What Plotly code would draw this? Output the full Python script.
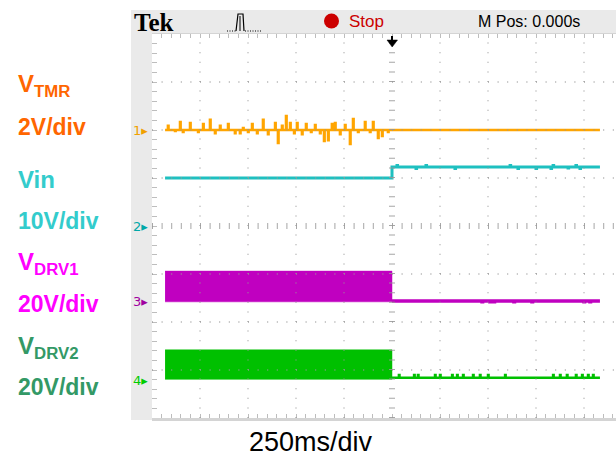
import plotly.graph_objects as go

# ---------------- data ----------------
sec_per_div = 0.25            # 250 ms/div
n_hdiv, n_vdiv = 10, 8

ch_names = ["V<sub>TMR</sub>", "Vin", "V<sub>DRV1</sub>", "V<sub>DRV2</sub>"]
ch_scale_labels = ["2V/div", "10V/div", "20V/div", "20V/div"]
volts_per_div = [2, 10, 20, 20]
ch_offset_div = [2.0, -0.01, -1.58, -3.22]   # ground marker positions (div)

t_start = -1.182      # s, first sample
t_step = 0.0          # s, input step (trigger)
t_end = 1.083         # s, last sample

# CH1 (VTMR) noise before the step, volts
ch1_noise_t = [-1.182, -1.167, -1.130, -1.104, -1.089, -1.052, -1.010, -0.984, -0.948, -0.922,
               -0.896, -0.854, -0.818, -0.792, -0.776, -0.750, -0.729, -0.703, -0.672, -0.646,
               -0.609, -0.594, -0.573, -0.552, -0.531, -0.510, -0.495, -0.469, -0.448, -0.422,
               -0.401, -0.375, -0.354, -0.333, -0.313, -0.297, -0.271, -0.245, -0.219, -0.203,
               -0.177, -0.141, -0.115, -0.099, -0.073, -0.052, -0.021]
ch1_noise_v = [0.00, 0.17, -0.04, 0.33, -0.08, 0.29, -0.08, 0.25, 0.42, -0.13,
               0.17, 0.25, -0.13, -0.13, 0.08, -0.08, 0.25, -0.13, 0.42, -0.17,
               0.29, -0.54, 0.17, 0.58, 0.29, -0.13, 0.29, -0.17, 0.25, -0.08,
               0.21, -0.13, -0.46, -0.42, 0.25, 0.29, -0.17, 0.21, -0.58, 0.46,
               -0.08, 0.33, -0.08, 0.33, -0.33, -0.25, -0.08]
ch1_level_v = 0.0

# CH2 (Vin)
ch2_before_v = 10.1
ch2_after_v = 12.4
ch2_glitch_t = [0.026, 0.125, 0.177, 0.328, 0.615, 0.656, 0.750, 0.828, 0.839, 0.917, 0.958, 0.979]
ch2_glitch_v = [0.3, -0.3, 0.3, -0.3, 0.3, -0.3, -0.3, -0.3, 0.3, -0.2, 0.3, -0.3]

# CH3 (VDRV1): switching envelope before step, then low
ch3_band_lo = 0.0
ch3_band_hi = 12.8
ch3_after_v = 0.4
ch3_glitch_t = [0.469, 0.510, 0.531, 0.635, 0.729, 1.000, 1.031]
ch3_glitch_v = [-0.4, -0.4, -0.4, -0.4, -0.4, -0.4, -0.4]

# CH4 (VDRV2)
ch4_band_lo = 0.5
ch4_band_hi = 12.8
ch4_after_v = 1.2
ch4_glitch_t = [0.036, 0.115, 0.135, 0.224, 0.250, 0.313, 0.339, 0.370, 0.422, 0.458,
                0.500, 0.589, 0.839, 0.875, 0.911, 0.958, 0.990, 1.021, 1.047]
ch4_glitch_v = [1.1] * 19

# ---------------- geometry (pixels of the 616x462 screenshot) ----------------
W, H = 616, 462
PL, PR, PT, PB = 152, 616, 34, 418    # plot area
px_per_div = 48.0
x_lo = -n_hdiv / 2 * sec_per_div
x_hi = x_lo + (PR - PL) / px_per_div * sec_per_div
y_lo, y_hi = -n_vdiv / 2, n_vdiv / 2


def X(px):
    return (px - PL) / (PR - PL)


def Y(py):
    return (PB - py) / (PB - PT)


def to_div(ch, v):
    return ch_offset_div[ch] + v / volts_per_div[ch]


SPIKE = 0.003   # rendered width of a glitch (s)


def spiky(base_t0, base_t1, base_v, gt, gv):
    xs, ys = [base_t0], [base_v]
    for t, v in zip(gt, gv):
        xs += [t, t + SPIKE]
        ys += [base_v + v, base_v]
    xs.append(base_t1)
    ys.append(base_v)
    return xs, ys


ORANGE = "#FFA500"
CYAN = "#1EC0C0"
MAGENTA = "#C000C0"
GREEN = "#00C000"

fig = go.Figure()

# CH1
x1, y1 = spiky(t_start, t_step, ch1_level_v, ch1_noise_t, ch1_noise_v)
x1 += [t_end]
y1 += [ch1_level_v]
fig.add_trace(go.Scatter(x=x1, y=[to_div(0, v) for v in y1], mode="lines",
                         line=dict(color=ORANGE, width=2.6, shape="hv"), hoverinfo="skip"))

# CH2
xa, ya = [t_start, t_step], [ch2_before_v, ch2_before_v]
xb, yb = spiky(t_step, t_end, ch2_after_v, ch2_glitch_t, ch2_glitch_v)
fig.add_trace(go.Scatter(x=xa + xb, y=[to_div(1, v) for v in ya + yb], mode="lines",
                         line=dict(color=CYAN, width=3, shape="hv"), hoverinfo="skip"))

# CH3 / CH4 switching envelopes
for ch, lo, hi, after, gt, gv, col, lw in [
        (2, ch3_band_lo, ch3_band_hi, ch3_after_v, ch3_glitch_t, ch3_glitch_v, MAGENTA, 3.5),
        (3, ch4_band_lo, ch4_band_hi, ch4_after_v, ch4_glitch_t, ch4_glitch_v, GREEN, 2.5)]:
    bx = [t_start, t_step, t_step, t_start]
    by = [lo, lo, hi, hi]
    fig.add_trace(go.Scatter(x=bx, y=[to_div(ch, v) for v in by], mode="lines",
                             fill="toself", fillcolor=col, line=dict(color=col, width=0.5),
                             hoverinfo="skip"))
    xs, ys = spiky(t_step, t_end, after, gt, gv)
    fig.add_trace(go.Scatter(x=xs, y=[to_div(ch, v) for v in ys], mode="lines",
                             line=dict(color=col, width=lw, shape="hv"), hoverinfo="skip"))

shapes = []
GRAY = "#EAEAEA"
# gray frame
shapes.append(dict(type="rect", xref="paper", yref="paper", x0=X(131), x1=X(PR), y0=Y(34), y1=Y(10),
                   fillcolor=GRAY, line=dict(width=0), layer="below"))
shapes.append(dict(type="rect", xref="paper", yref="paper", x0=X(131), x1=X(152), y0=Y(420), y1=Y(34),
                   fillcolor=GRAY, line=dict(width=0), layer="below"))
shapes.append(dict(type="rect", xref="paper", yref="paper", x0=X(152), x1=X(PR), y0=Y(421), y1=Y(418),
                   fillcolor="#D4D4D4", line=dict(width=0), layer="below"))

DOT = "1px,8.6px"
GRIDC = "rgba(150,150,150,0.85)"
for k in range(1, n_hdiv):
    t = x_lo + k * sec_per_div
    wid = 6 if k == n_hdiv // 2 else 1.3
    shapes.append(dict(type="line", xref="x", yref="y", x0=t, x1=t, y0=y_lo, y1=y_hi,
                       line=dict(color=GRIDC, width=wid, dash=DOT), layer="above"))
for k in range(1, n_vdiv):
    yv = y_lo + k
    wid = 6 if k == n_vdiv // 2 else 1.3
    shapes.append(dict(type="line", xref="x", yref="y", x0=x_lo, x1=x_hi, y0=yv, y1=yv,
                       line=dict(color=GRIDC, width=wid, dash=DOT), layer="above"))

# trigger position arrow
shapes.append(dict(type="line", xref="paper", yref="paper", x0=X(392), x1=X(392), y0=Y(36), y1=Y(42),
                   line=dict(color="black", width=2)))
shapes.append(dict(type="path", xref="paper", yref="paper",
                   path=f"M{X(387)},{Y(40)} L{X(397.5)},{Y(40)} L{X(392.2)},{Y(47)} Z",
                   fillcolor="black", line=dict(color="black", width=0.5)))
# acquisition icon
shapes.append(dict(type="path", xref="paper", yref="paper",
                   path=f"M{X(236)},{Y(31)} L{X(238)},{Y(14)} L{X(243)},{Y(14)} L{X(244)},{Y(31)}",
                   line=dict(color="black", width=1.2)))
shapes.append(dict(type="line", xref="paper", yref="paper", x0=X(240), x1=X(240), y0=Y(31), y1=Y(16),
                   line=dict(color="black", width=1)))
shapes.append(dict(type="line", xref="paper", yref="paper", x0=X(227), x1=X(236), y0=Y(31), y1=Y(31),
                   line=dict(color="black", width=1.2, dash="1px,1.5px")))
shapes.append(dict(type="line", xref="paper", yref="paper", x0=X(245), x1=X(262), y0=Y(31), y1=Y(31),
                   line=dict(color="black", width=1.2, dash="1px,1.5px")))
# stop dot
shapes.append(dict(type="circle", xref="paper", yref="paper", x0=X(324), x1=X(339), y0=Y(28.5), y1=Y(13.5),
                   fillcolor="#CC0000", line=dict(width=0)))

ann = []
LBL = "Liberation Sans, Arial, sans-serif"
label_rows = [(85, 0), (127, 0), (179, 1), (221, 1), (263, 2), (304, 2), (347, 3), (387, 3)]
label_cols = ["#FF6600", "#33CCCC", "#FF00FF", "#339966"]
for i, (py, ch) in enumerate(label_rows):
    txt = ch_names[ch] if i % 2 == 0 else ch_scale_labels[ch]
    ann.append(dict(x=X(16), y=Y(py), xref="paper", yref="paper", xanchor="left", yanchor="middle",
                    text=f"<b>{txt}</b>", showarrow=False,
                    font=dict(family=LBL, size=24 if i % 2 == 0 else 23, color=label_cols[ch])))

marker_cols = ["#F0A000", "#00A8A8", "#A000A0", "#00CC00"]
for ch in range(4):
    py = PT + (y_hi - ch_offset_div[ch]) * px_per_div
    ann.append(dict(x=X(150), y=Y(py), xref="paper", yref="paper", xanchor="right", yanchor="middle",
                    text=f"{ch + 1}\u25B8", showarrow=False,
                    font=dict(family="DejaVu Sans", size=13, color=marker_cols[ch])))

ann.append(dict(x=X(132), y=Y(22.5), xref="paper", yref="paper", xanchor="left", yanchor="middle",
                text="<b>Tek</b>", showarrow=False,
                font=dict(family="Liberation Serif, Times New Roman, serif", size=25, color="black")))
ann.append(dict(x=X(347), y=Y(21.5), xref="paper", yref="paper", xanchor="left", yanchor="middle",
                text="Stop", showarrow=False, font=dict(family=LBL, size=17, color="#CC0000")))
ann.append(dict(x=X(476), y=Y(21.5), xref="paper", yref="paper", xanchor="left", yanchor="middle",
                text="M Pos: 0.000s", showarrow=False, font=dict(family=LBL, size=16, color="black")))
ann.append(dict(x=X(310.5), y=Y(442), xref="paper", yref="paper", xanchor="center", yanchor="middle",
                text="250ms/div", showarrow=False, font=dict(family=LBL, size=27, color="black")))

fig.update_layout(
    width=W, height=H,
    margin=dict(l=PL, r=W - PR, t=PT, b=H - PB, pad=0),
    paper_bgcolor="white", plot_bgcolor="white",
    showlegend=False,
    shapes=shapes, annotations=ann,
    xaxis=dict(range=[x_lo, x_hi], showgrid=False, zeroline=False, showticklabels=False,
               ticks="inside", ticklen=4, tickcolor="#BDBDBD", tickwidth=1,
               tick0=x_lo, dtick=sec_per_div / 5, mirror="ticks",
               showline=True, linecolor="#D4D4D4", linewidth=1, fixedrange=True),
    yaxis=dict(range=[y_lo, y_hi], showgrid=False, zeroline=False, showticklabels=False,
               ticks="inside", ticklen=5, tickcolor="#BDBDBD", tickwidth=1,
               tick0=y_lo, dtick=0.2, mirror=False,
               showline=False, fixedrange=True),
)

# the page itself adds no margin around the 616x462 figure
fig.write_html("out.html",
               config={"displayModeBar": False, "staticPlot": True},
               post_script="document.body.style.margin='0';document.body.style.overflow='hidden';")
